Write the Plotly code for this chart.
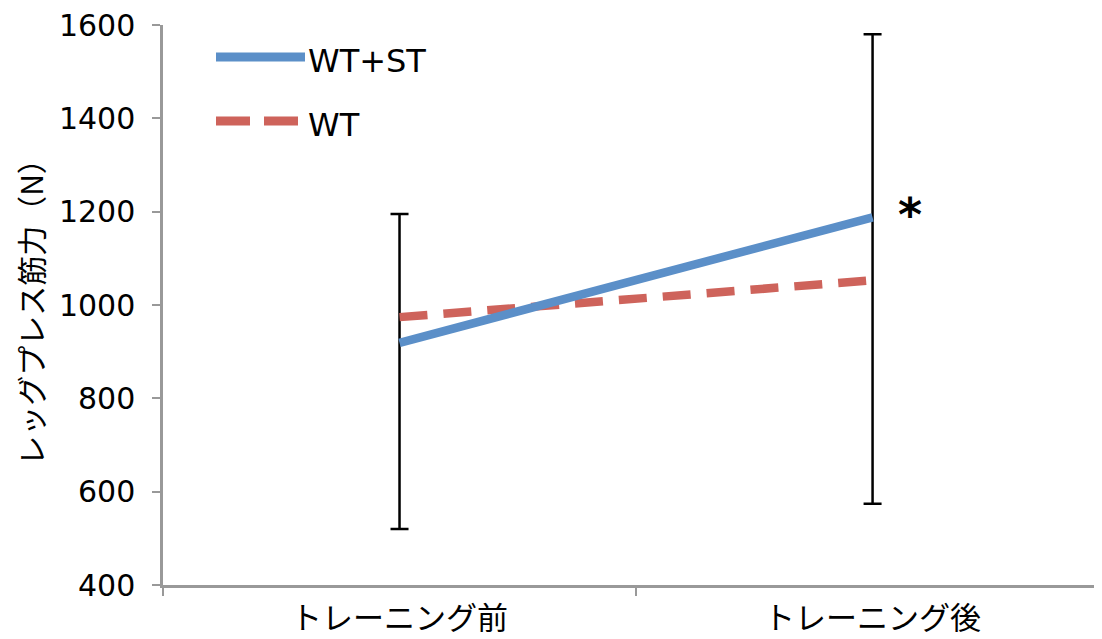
import plotly.graph_objects as go

categories = ["トレーニング前", "トレーニング後"]
wt_st = [919, 1188]
wt = [974, 1053]
err_upper = [1195, 1580]
err_lower = [520, 574]
y_ticks = [400, 600, 800, 1000, 1200, 1400, 1600]

BLUE = "#5B8FC8"
RED = "#CE635B"
JP = "Noto Sans CJK JP, Hiragino Sans, sans-serif"
LAT = "DejaVu Sans, sans-serif"

# page has an 8px body margin; figure is sized to fit the window
OFF = 8
W, H = 1102 - OFF, 639 - OFF
# plot area geometry in screen pixels (for legend placement)
L, R, T, B = 163, 1102, 25, 585
def px(x):
    return (x - L) / (R - L)
def py(y):
    return (B - y) / (B - T)

fig = go.Figure()

fig.add_trace(go.Scatter(
    x=categories, y=wt_st, mode="markers",
    marker=dict(size=1, color="rgba(0,0,0,0)"),
    error_y=dict(type="data", symmetric=False,
                 array=[u - m for u, m in zip(err_upper, wt_st)],
                 arrayminus=[m - l for l, m in zip(err_lower, wt_st)],
                 color="black", thickness=2.5, width=9),
    showlegend=False, hoverinfo="skip"))

fig.add_trace(go.Scatter(
    x=categories, y=wt, mode="lines", name="WT",
    line=dict(color=RED, width=8.5, dash="28px,16px"), showlegend=False))

fig.add_trace(go.Scatter(
    x=categories, y=wt_st, mode="lines", name="WT+ST",
    line=dict(color=BLUE, width=8.5), showlegend=False))

# legend drawn manually
fig.add_shape(type="line", xref="paper", yref="paper",
              x0=px(216), x1=px(305), y0=py(57), y1=py(57),
              line=dict(color=BLUE, width=9))
fig.add_shape(type="line", xref="paper", yref="paper",
              x0=px(216), x1=px(298), y0=py(121), y1=py(121),
              line=dict(color=RED, width=9, dash="34px,14px"))
fig.add_annotation(xref="paper", yref="paper", x=px(306), y=py(61),
                   text="WT+ST", showarrow=False, xanchor="left", yanchor="middle",
                   font=dict(family=LAT, size=32, color="black"))
fig.add_annotation(xref="paper", yref="paper", x=px(306), y=py(125),
                   text="WT", showarrow=False, xanchor="left", yanchor="middle",
                   font=dict(family=LAT, size=32, color="black"))

# significance marker
fig.add_annotation(x=categories[1], y=wt_st[1], text="<b>*</b>", showarrow=False,
                   xshift=37, yshift=2, font=dict(family="DejaVu Sans", size=46, color="black"))

fig.update_layout(
    width=W, height=H,
    margin=dict(l=L - OFF, r=0, t=T - OFF, b=H - (B - OFF)),
    paper_bgcolor="white", plot_bgcolor="white",
    font=dict(family=JP, color="black"),
    xaxis=dict(type="category", range=[-0.5, 1.485], tickson="boundaries",
               automargin=False,
               showline=True, linecolor="#999999", linewidth=2.5,
               ticks="outside", ticklen=8, tickwidth=2, tickcolor="#999999",
               ticklabelstandoff=4, ticklabeloverflow="allow",
               showgrid=False, zeroline=False,
               tickfont=dict(family=JP, size=31, color="black")),
    yaxis=dict(range=[400, 1600], tickvals=y_ticks, automargin=False,
               showline=True, linecolor="#999999", linewidth=2.5,
               ticks="outside", ticklen=8, tickwidth=2, tickcolor="#999999",
               ticklabelstandoff=11, ticklabeloverflow="allow",
               showgrid=False, zeroline=False,
               tickfont=dict(family=LAT, size=30, color="black"),
               title=dict(text="レッグプレス筋力（N）", standoff=16,
                          font=dict(family=JP, size=30, color="black"))),
)

fig.write_html("out.html")
